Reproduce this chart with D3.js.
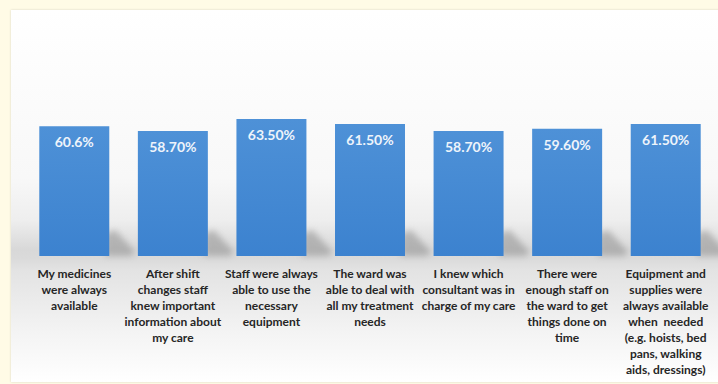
<!DOCTYPE html>
<html><head><meta charset="utf-8">
<script src="https://cdn.jsdelivr.net/npm/d3@7"></script>
<style>html,body{margin:0;padding:0;background:#fffbe6;}svg{display:block;}</style>
</head><body>
<script>
const categories = [
  ["My medicines","were always","available"],
  ["After shift","changes staff","knew important","information about","my care"],
  ["Staff were always","able to use the","necessary","equipment"],
  ["The ward was","able to deal with","all my treatment","needs"],
  ["I knew which","consultant was in","charge of my care"],
  ["There were","enough staff on","the ward to get","things done on","time"],
  ["Equipment and","supplies were","always available","when  needed","(e.g. hoists, bed","pans, walking","aids, dressings)"]
];
const values = [60.6, 58.7, 63.5, 61.5, 58.7, 59.6, 61.5];
const valueLabels = ["60.6%","58.70%","63.50%","61.50%","58.70%","59.60%","61.50%"];
const yDomain = [8.7, 70];

const W = 718, H = 384;
const svg = d3.select("body").append("svg").attr("width", W).attr("height", H);
const defs = svg.append("defs");

const pg = defs.append("linearGradient").attr("id","panelGrad").attr("x1",0).attr("y1",0).attr("x2",0).attr("y2",1);
[[0,"#ffffff"],[0.45,"#f8f8f8"],[0.565,"#eeeeee"],[0.645,"#d8d8d8"],[0.667,"#dadada"],[0.70,"#e3e3e3"],[0.86,"#f3f3f3"],[1,"#ffffff"]]
  .forEach(([o,c]) => pg.append("stop").attr("offset",o).attr("stop-color",c));

const bg = defs.append("linearGradient").attr("id","barGrad").attr("x1",0).attr("y1",0).attr("x2",0).attr("y2",1);
bg.append("stop").attr("offset",0).attr("stop-color","#4e91d7");
bg.append("stop").attr("offset",1).attr("stop-color","#3c82cf");

const blur = defs.append("filter").attr("id","blur").attr("x","-50%").attr("y","-50%").attr("width","200%").attr("height","200%");
blur.append("feGaussianBlur").attr("stdDeviation",3);

const shadowF = defs.append("filter").attr("id","pshadow").attr("x","-5%").attr("y","-5%").attr("width","110%").attr("height","110%");
shadowF.append("feGaussianBlur").attr("in","SourceAlpha").attr("stdDeviation",1.2);
shadowF.append("feOffset").attr("dx",0).attr("dy",0).attr("result","b");
shadowF.append("feFlood").attr("flood-color","#000").attr("flood-opacity",0.15);
shadowF.append("feComposite").attr("in2","b").attr("operator","in");
const fm = shadowF.append("feMerge");
fm.append("feMergeNode"); fm.append("feMergeNode").attr("in","SourceGraphic");

// panel
svg.append("rect").attr("x",11).attr("y",10).attr("width",W).attr("height",372)
  .attr("fill","url(#panelGrad)").attr("filter","url(#pshadow)");

const x = d3.scaleBand().domain(d3.range(values.length)).range([25, 715]).paddingInner(0.29).paddingOuter(0.145);
const y = d3.scaleLinear().domain(yDomain).range([256, 256 - (yDomain[1]-yDomain[0])*2.5]);

// floor shadows behind bars
const g = svg.append("g");
g.selectAll("path.sh").data(values).join("path").attr("class","sh")
  .attr("d", (d,i) => {
    const x1 = x(i) + x.bandwidth();
    const b = y(yDomain[0]);
    return `M${x1-4},${b} L${x1-4},${b-22} L${x1+6},${b-26} L${x1+26},${b-4} L${x1+22},${b}Z`;
  })
  .attr("fill","#909090").attr("opacity",0.55).attr("filter","url(#blur)");

// bars
g.selectAll("rect.bar").data(values).join("rect").attr("class","bar")
  .attr("x",(d,i)=>x(i)).attr("width",x.bandwidth())
  .attr("y",d=>y(d)).attr("height",d=>y(yDomain[0])-y(d))
  .attr("fill","url(#barGrad)");

// value labels
g.selectAll("text.val").data(values).join("text").attr("class","val")
  .attr("x",(d,i)=>x(i)+x.bandwidth()/2).attr("y",d=>y(d)+21)
  .attr("text-anchor","middle").attr("fill","#eef4fb")
  .style("font-family","Lato, 'Open Sans', sans-serif").style("font-weight","bold").style("font-size","14px")
  .text((d,i)=>valueLabels[i]);

// category labels
const cl = g.selectAll("text.cat").data(categories).join("text").attr("class","cat")
  .attr("text-anchor","middle").attr("fill","#262626")
  .style("font-family","Lato, 'Open Sans', sans-serif").style("font-weight","bold").style("font-size","12px");
cl.each(function(lines,i){
  const t = d3.select(this);
  lines.forEach((ln,j)=>{
    t.append("tspan").attr("x", x(i)+x.bandwidth()/2).attr("y", 277.5 + j*16)
      .attr("xml:space","preserve").text(ln);
  });
});
</script>
</body></html>
